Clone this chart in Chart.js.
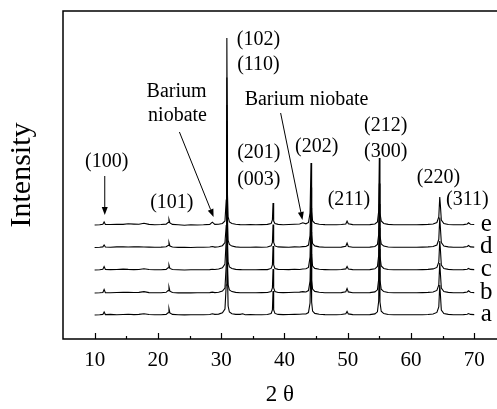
<!DOCTYPE html>
<html>
<head>
<meta charset="utf-8">
<script src="https://cdn.jsdelivr.net/npm/chart.js@4.4.1/dist/chart.umd.min.js"></script>
<style>
html,body{margin:0;padding:0;background:#fff;}
canvas{display:block;}
</style>
</head>
<body>
<canvas id="c" width="497" height="409"></canvas>
<script>
// 2-theta positions (degrees), shared by all five patterns
const twoTheta = [
  10, 10.8, 11.3, 11.5, 11.7, 12.5, 13.5, 14.5, 15.3, 16.2,
  17.0, 17.8, 18.6, 19.5, 20.5, 21.3, 21.6, 21.75, 21.9, 22.3,
  23.2, 24.2, 25.2, 26.2, 27.2, 28.2, 28.6, 29.0, 29.6, 30.2,
  30.6, 30.8, 30.9, 31.0, 31.1, 31.3, 31.7, 32.3, 33.0, 33.4,
  33.8, 34.6, 35.5, 36.4, 37.3, 37.9, 38.1, 38.2, 38.3, 38.5,
  39.0, 39.8, 40.7, 41.6, 42.4, 42.9, 43.4, 43.8, 44.05, 44.2,
  44.3, 44.45, 44.8, 45.5, 46.4, 47.3, 48.2, 49.0, 49.7, 49.9,
  50.1, 50.8, 51.7, 52.6, 53.5, 54.3, 54.7, 54.9, 55.0, 55.1,
  55.3, 55.7, 56.4, 57.3, 58.2, 59.1, 60.0, 60.9, 61.8, 62.7,
  63.5, 64.1, 64.4, 64.55, 64.65, 64.8, 65.2, 65.9, 66.7, 67.5,
  68.3, 68.9, 69.1, 69.4, 70.0
];

// intensities (arbitrary units) of each pattern
const intensityA = [
  0, 0.3, 0.6, 3, 0.4, 0.6, 0.3, 0.5, 0.7, 0.4,
  0.6, 1.2, 0.5, 0.2, 0.3, 0.6, 2.2, 6.5, 2, 0.6,
  0.2, 0.1, 0.2, 0.3, 0.2, 0.5, 1.2, 0.6, 0.9, 2.2,
  6, 30, 180, 40, 9, 3, 1.3, 0.6, 0.6, 1.2,
  0.3, 0.4, 0.2, 0.3, 0.5, 1.5, 5, 24, 5, 1.6,
  0.6, 0.4, 0.5, 0.6, 0.7, 1, 1, 2.4, 12, 61,
  13, 4, 1.6, 0.7, 0.4, 0.3, 0.3, 0.5, 1.2, 3.5,
  1.1, 0.4, 0.3, 0.2, 0.4, 1.1, 3.2, 14, 66, 13,
  3.8, 1.4, 0.5, 0.3, 0.2, 0.3, 0.2, 0.3, 0.3, 0.5,
  1, 2.6, 8, 30, 21, 5, 1.4, 0.6, 0.3, 0.3,
  0.4, 0.8, 1.5, 0.6, 0.4
];
const intensityB = [
  0, 0.2, 0.5, 3.5, 0.4, 0.3, 0.5, 0.8, 0.6, 0.5,
  0.6, 1.4, 0.4, 0.2, 0.3, 0.7, 2.4, 6, 1.8, 0.5,
  0.1, 0.2, 0.1, 0.2, 0.3, 0.4, 0.9, 0.4, 0.8, 2,
  5, 28, 172, 30, 8, 3, 1.4, 0.6, 0.3, 0.2,
  0.2, 0.3, 0.2, 0.4, 0.5, 1.5, 5, 24, 5, 1.5,
  0.5, 0.4, 0.5, 0.7, 0.9, 1.4, 1, 2.4, 12, 61,
  13, 4, 1.6, 0.7, 0.3, 0.3, 0.2, 0.4, 1.2, 4.5,
  1.1, 0.3, 0.2, 0.3, 0.4, 1.1, 3.2, 14, 65, 13,
  3.8, 1.4, 0.5, 0.3, 0.2, 0.3, 0.2, 0.3, 0.4, 0.6,
  1, 2.6, 8, 30, 20, 5, 1.4, 0.6, 0.3, 0.3,
  0.4, 1, 2.2, 0.7, 0.4
];
const intensityC = [
  0, 0.3, 0.7, 3.5, 0.6, 0.4, 0.5, 0.9, 0.6, 0.4,
  0.5, 1.2, 0.5, 0.3, 0.3, 0.6, 2.2, 5, 1.6, 0.5,
  0.2, 0, 0.2, 0.3, 0.2, 0.4, 0.8, 0.5, 1, 2.2,
  6, 30, 165, 30, 8, 3, 1.5, 0.6, 0.4, 0.3,
  0.2, 0.3, 0.3, 0.5, 0.4, 1.6, 5, 24, 5, 1.5,
  0.6, 0.5, 0.4, 0.8, 0.5, 1, 1.2, 2.6, 13, 62,
  14, 4, 1.6, 0.7, 0.4, 0.2, 0.3, 0.5, 1.1, 3.5,
  1, 0.4, 0.3, 0.2, 0.4, 1.2, 3.5, 15, 66, 14,
  4, 1.5, 0.5, 0.3, 0.2, 0.3, 0.2, 0.3, 0.4, 0.6,
  1.1, 2.6, 8, 29, 21, 5, 1.5, 0.6, 0.3, 0.3,
  0.4, 0.8, 1.6, 0.6, 0.4
];
const intensityD = [
  0, 0.2, 0.6, 2.5, 0.5, 0.3, 0.6, 0.8, 0.5, 0.7,
  0.6, 0.5, 0.4, 0.2, 0.4, 0.7, 2, 5, 1.5, 0.5,
  0.1, 0.2, 0, 0.2, 0.3, 0.5, 1, 0.4, 0.8, 1.8,
  5, 22, 170, 28, 7, 3, 1.4, 0.6, 0.3, 0.2,
  0.3, 0.2, 0.4, 0.3, 0.5, 1.6, 5, 23, 5, 1.6,
  0.6, 0.4, 0.3, 0.6, 0.5, 0.9, 1, 2.4, 12, 60,
  13, 4, 1.6, 0.6, 0.3, 0.3, 0.2, 0.4, 1.2, 4.5,
  1, 0.3, 0.2, 0.3, 0.4, 1, 3, 13, 64, 12,
  3.5, 1.4, 0.5, 0.3, 0.3, 0.2, 0.3, 0.2, 0.4, 0.6,
  1, 2.5, 8, 30, 20, 5, 1.4, 0.6, 0.3, 0.3,
  0.4, 1, 2, 0.6, 0.4
];
const intensityE = [
  0, 0.3, 0.8, 3, 0.6, 0.5, 0.8, 0.6, 1.2, 0.9,
  0.7, 1.8, 0.6, 0.3, 0.5, 0.9, 2.5, 5.5, 2, 0.6,
  0.2, -0.2, 0.3, 0, 0.2, 0.6, 2.8, 0.6, 0.8, 1.5,
  4, 25, 187, 30, 8, 3, 1.5, 0.8, 0.4, 0.3,
  0.2, 0.5, 0.2, 0.4, 0.6, 1.5, 5, 22, 4, 1.5,
  0.6, 0.3, 0.5, 0.8, 1, 2.2, 1.2, 2.5, 12, 62,
  14, 4, 1.8, 0.8, 0.4, 0.2, 0.3, 0.5, 1, 4,
  1.2, 0.4, 0.3, 0.2, 0.4, 1, 3, 14, 67, 12,
  4, 1.5, 0.6, 0.3, 0.2, 0.3, 0.2, 0.3, 0.4, 0.6,
  1, 2.5, 8, 28, 20, 5, 1.5, 0.5, 0.3, 0.2,
  0.4, 1, 2.2, 0.8, 0.5
];

const sampleNames = ['a', 'b', 'c', 'd', 'e'];
const sampleIntensities = [intensityA, intensityB, intensityC, intensityD, intensityE];
const sampleOffsets = [24, 46, 69, 91.5, 114];   // vertical stacking offsets

const xTickValues = [10, 20, 30, 40, 50, 60, 70];
const xMinorTickValues = [15, 25, 35, 45, 55, 65];

// annotation labels: [text, 2-theta, intensity-axis value]
const peakLabels = [
  ['(100)', 11.9, 177],
  ['(101)', 22.2, 136],
  ['Barium', 22.95, 247],
  ['niobate', 23.1, 223],
  ['(102)', 35.9, 299],
  ['(110)', 35.9, 274],
  ['Barium niobate', 43.5, 239],
  ['(201)', 35.95, 186],
  ['(003)', 35.95, 159],
  ['(202)', 45.1, 192],
  ['(211)', 50.2, 139],
  ['(212)', 56.0, 213],
  ['(300)', 56.0, 187],
  ['(220)', 64.35, 161],
  ['(311)', 68.9, 139]
];
// arrows: [x0, y0, x1, y1] in data units, head at (x1, y1)
const pointerArrows = [
  [11.6, 163, 11.6, 124],
  [23.4, 207, 28.8, 122],
  [39.4, 226, 42.85, 119]
];
const sampleLabelX = 71.9;

const SERIF = '"Liberation Serif", "DejaVu Serif", serif';

const decorPlugin = {
  id: 'decor',
  afterDraw(chart) {
    const ctx = chart.ctx;
    const ca = chart.chartArea;
    const xs = chart.scales.x, ys = chart.scales.y;
    ctx.save();
    ctx.strokeStyle = '#000';
    ctx.fillStyle = '#000';
    // frame (left, top, bottom)
    ctx.lineWidth = 1.5;
    ctx.beginPath();
    ctx.moveTo(ca.right + 2, ca.top);
    ctx.lineTo(ca.left, ca.top);
    ctx.lineTo(ca.left, ca.bottom);
    ctx.lineTo(ca.right + 2, ca.bottom);
    ctx.stroke();
    // inward ticks
    ctx.lineWidth = 1.2;
    ctx.beginPath();
    xTickValues.forEach(v => {
      const px = Math.round(xs.getPixelForValue(v)) + 0.5;
      ctx.moveTo(px, ca.bottom); ctx.lineTo(px, ca.bottom - 6);
    });
    xMinorTickValues.forEach(v => {
      const px = Math.round(xs.getPixelForValue(v)) + 0.5;
      ctx.moveTo(px, ca.bottom); ctx.lineTo(px, ca.bottom - 3);
    });
    ctx.stroke();
    // peak labels
    ctx.font = '20px ' + SERIF;
    ctx.textAlign = 'center';
    ctx.textBaseline = 'middle';
    peakLabels.forEach(([t, x, y]) => {
      ctx.fillText(t, xs.getPixelForValue(x), ys.getPixelForValue(y));
    });
    // arrows
    ctx.lineWidth = 1;
    pointerArrows.forEach(([x0, y0, x1, y1]) => {
      const ax = xs.getPixelForValue(x0), ay = ys.getPixelForValue(y0);
      const bx = xs.getPixelForValue(x1), by = ys.getPixelForValue(y1);
      const ang = Math.atan2(by - ay, bx - ax);
      const hl = 8, hw = 3;
      const cx = bx - hl * Math.cos(ang), cy = by - hl * Math.sin(ang);
      ctx.beginPath();
      ctx.moveTo(ax, ay); ctx.lineTo(cx, cy);
      ctx.stroke();
      ctx.beginPath();
      ctx.moveTo(bx, by);
      ctx.lineTo(cx + hw * Math.sin(ang), cy - hw * Math.cos(ang));
      ctx.lineTo(cx - hw * Math.sin(ang), cy + hw * Math.cos(ang));
      ctx.closePath();
      ctx.fill();
    });
    // sample letters
    ctx.font = '25px ' + SERIF;
    sampleNames.forEach((n, i) => {
      ctx.fillText(n, xs.getPixelForValue(sampleLabelX), ys.getPixelForValue(sampleOffsets[i]) - 1);
    });
    ctx.restore();
  }
};

const datasets = sampleNames.map((n, i) => ({
  label: n,
  data: twoTheta.map((t, k) => ({ x: t, y: sampleOffsets[i] + sampleIntensities[i][k] })),
  borderColor: '#000',
  borderWidth: 1.1,
  pointRadius: 0,
  tension: 0,
  fill: false
}));

new Chart(document.getElementById('c'), {
  type: 'line',
  data: { datasets },
  options: {
    responsive: false,
    animation: false,
    layout: { padding: { top: 11, right: 0, left: 0, bottom: 0 } },
    scales: {
      x: {
        type: 'linear',
        min: 5, max: 73.6,
        grid: { display: false, drawTicks: false },
        border: { display: false },
        afterBuildTicks: s => { s.ticks = xTickValues.map(v => ({ value: v })); },
        afterFit: s => { s.height = 70; },
        ticks: {
          color: '#000', padding: 9, maxRotation: 0, autoSkip: false,
          font: { family: SERIF, size: 21 },
          callback: v => String(v)
        },
        title: {
          display: true, text: '2 θ', color: '#000',
          font: { family: SERIF, size: 23 },
          padding: { top: 0, bottom: 0 }
        }
      },
      y: {
        min: 0, max: 328,
        grid: { display: false, drawTicks: false },
        border: { display: false },
        ticks: { display: false },
        afterFit: s => { s.width = 63; },
        title: {
          display: true, text: 'Intensity', color: '#000',
          font: { family: SERIF, size: 30 },
          padding: { top: 4, bottom: 0 }
        }
      }
    },
    plugins: { legend: { display: false }, tooltip: { enabled: false } }
  },
  plugins: [decorPlugin]
});
</script>
</body>
</html>
